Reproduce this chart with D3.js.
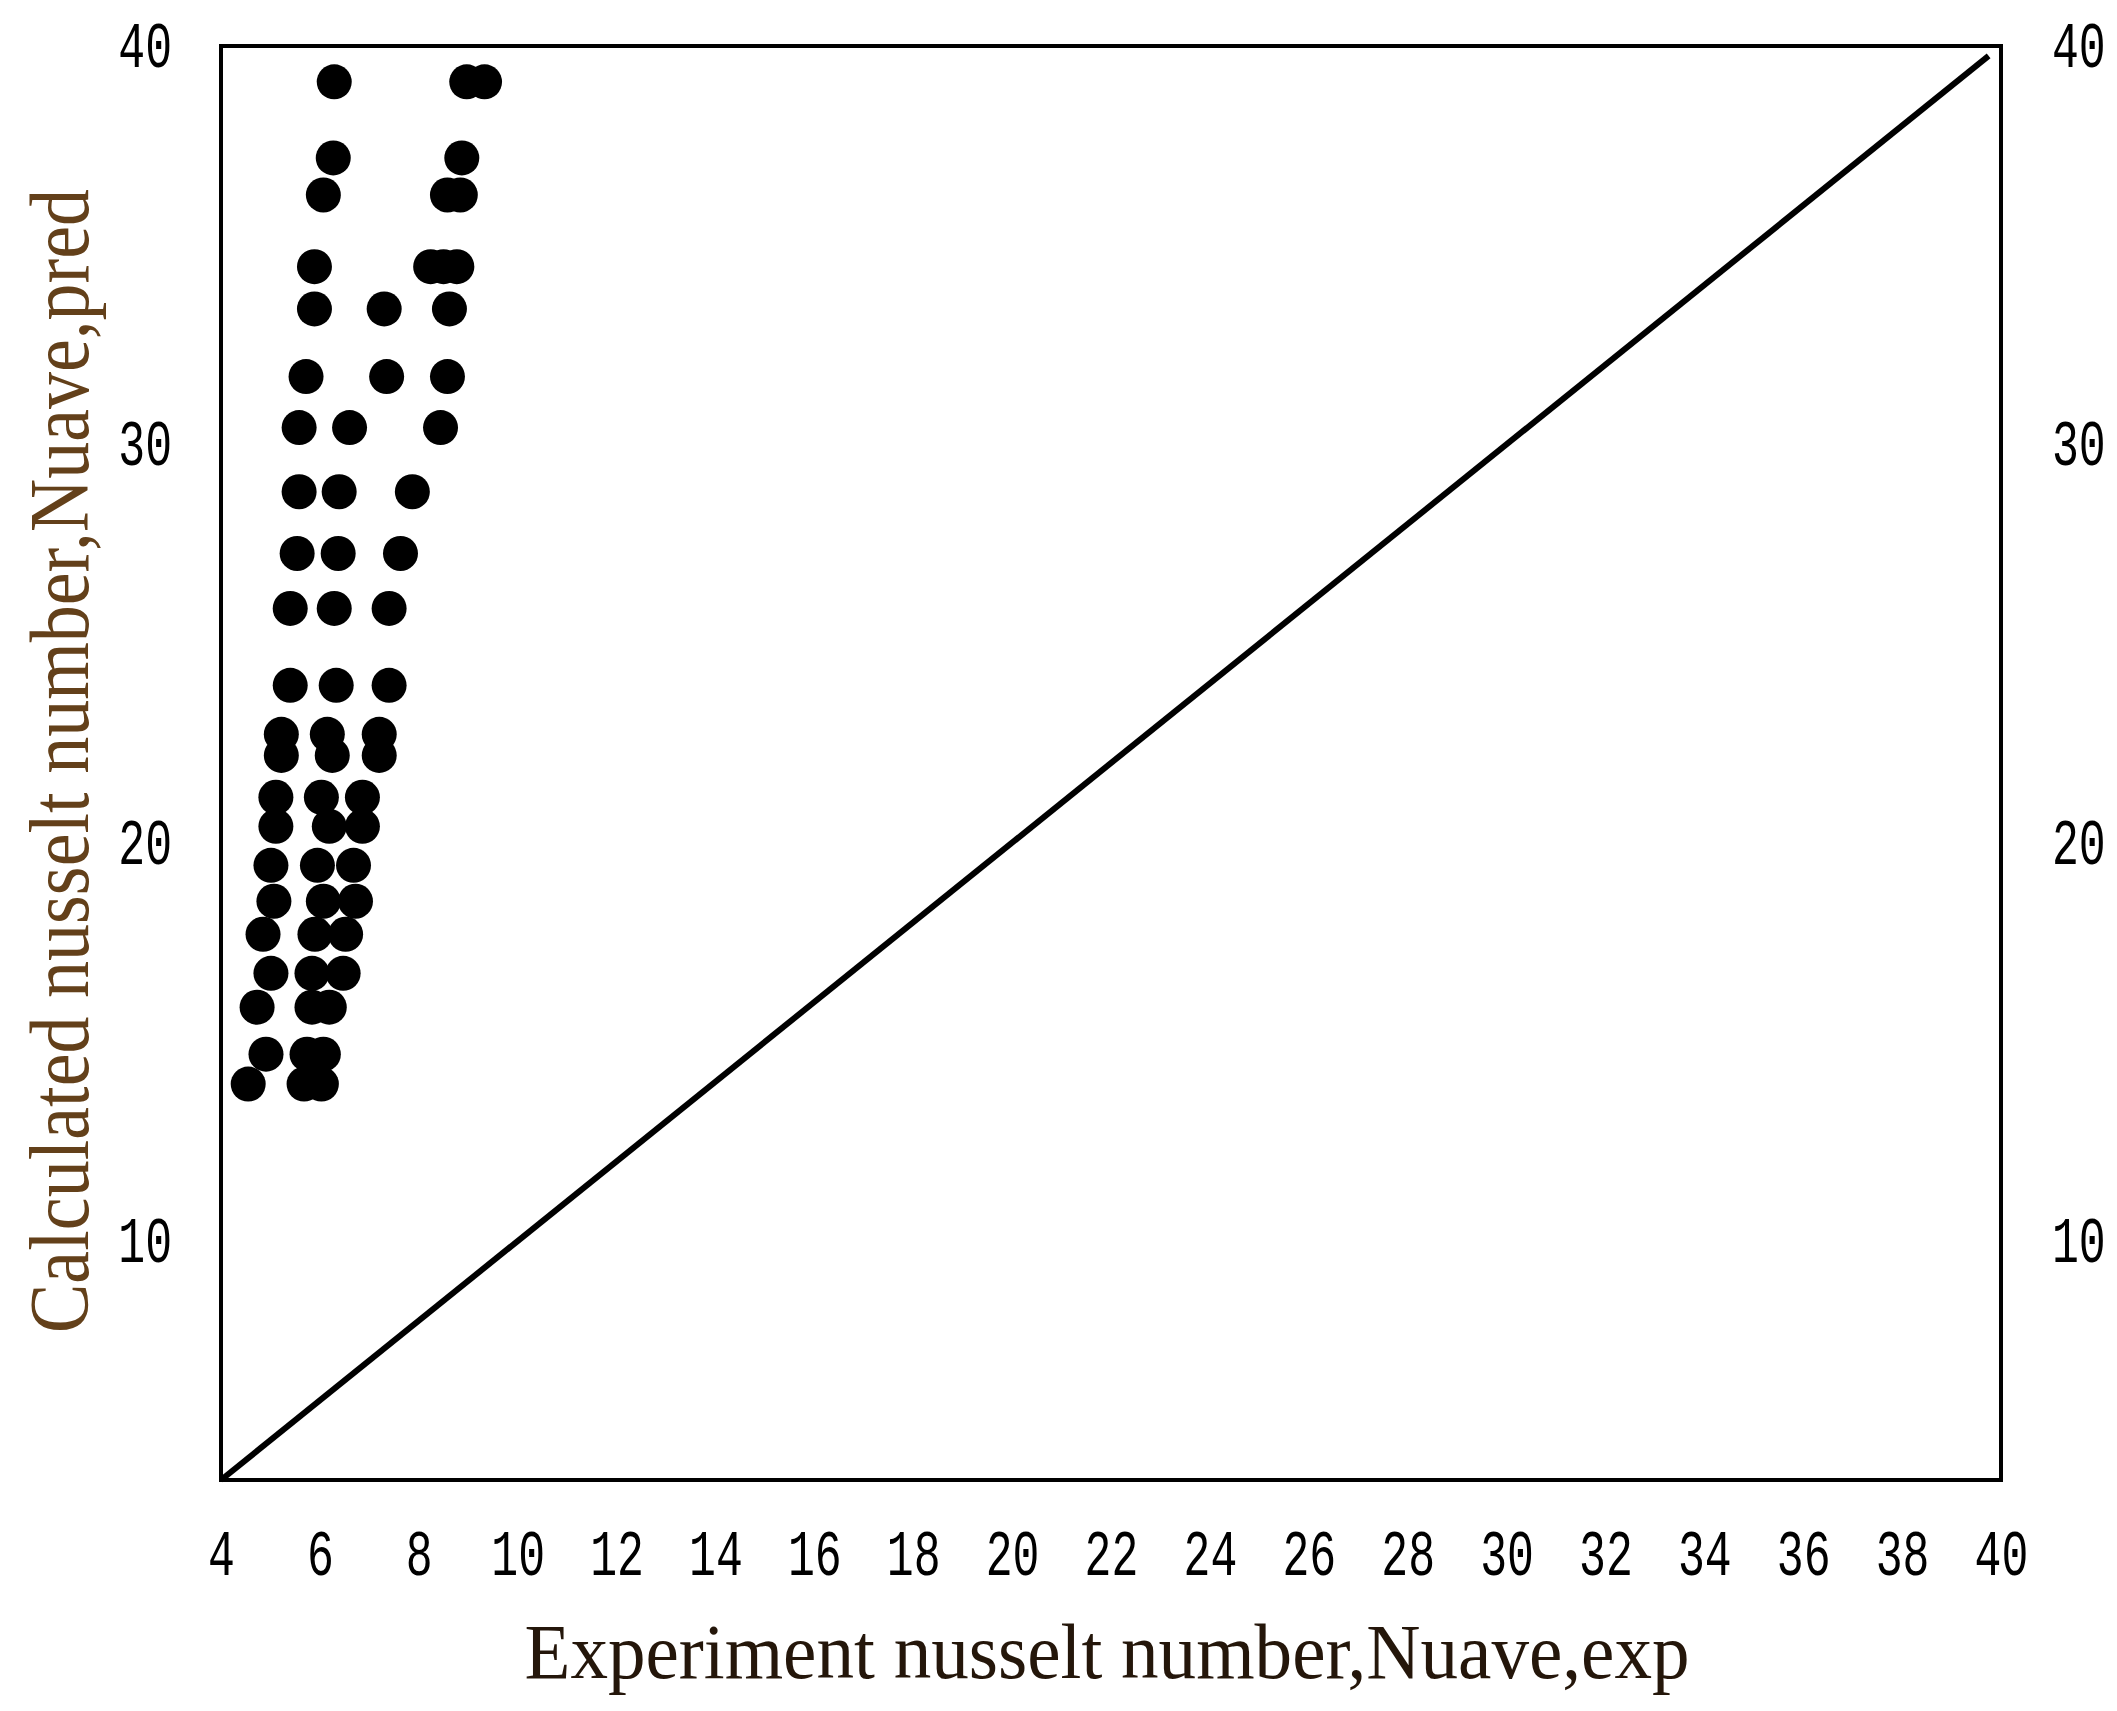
<!DOCTYPE html>
<html>
<head>
<meta charset="utf-8">
<script src="https://cdn.jsdelivr.net/npm/d3@7/dist/d3.min.js"></script>
<style>
  body { margin: 0; background: #fff; }
  .tick-lbl { font-family: "Liberation Mono", "DejaVu Sans Mono", monospace; font-size: 64px; fill: #000; }
  .axis-title { font-family: "Liberation Serif", "DejaVu Serif", serif; }
</style>
</head>
<body>
<div id="chart"></div>
<script>
const nuExp = [
  6.29, 8.97, 9.33,
  6.27, 8.87,
  6.07, 8.58, 8.84,
  5.89, 8.24, 8.50, 8.77,
  5.89, 7.30, 8.62,
  5.72, 7.35, 8.58,
  5.58, 6.60, 8.44,
  5.58, 6.39, 7.87,
  5.54, 6.37, 7.63,
  5.40, 6.29, 7.40,
  5.40, 6.33, 7.40,
  5.22, 6.15, 7.20,
  5.22, 6.25, 7.20,
  5.11, 6.03, 6.86,
  5.11, 6.19, 6.86,
  5.01, 5.95, 6.68,
  5.07, 6.07, 6.72,
  4.85, 5.90, 6.52,
  5.01, 5.84, 6.47,
  4.73, 5.84, 6.19,
  4.91, 5.74, 6.07,
  4.55, 5.68, 6.03
];
const nuPred = [
  39.10, 39.10, 39.10,
  37.19, 37.19,
  36.26, 36.26, 36.26,
  34.46, 34.46, 34.46, 34.46,
  33.40, 33.40, 33.40,
  31.70, 31.70, 31.70,
  30.42, 30.42, 30.42,
  28.81, 28.81, 28.81,
  27.26, 27.26, 27.26,
  25.88, 25.88, 25.88,
  23.95, 23.95, 23.95,
  22.72, 22.72, 22.72,
  22.19, 22.19, 22.19,
  21.14, 21.14, 21.14,
  20.41, 20.41, 20.41,
  19.43, 19.43, 19.43,
  18.53, 18.53, 18.53,
  17.70, 17.70, 17.70,
  16.72, 16.72, 16.72,
  15.87, 15.87, 15.87,
  14.69, 14.69, 14.69,
  13.94, 13.94, 13.94
];
const parityLine = [4, 39.75];
const xTicks = [4, 6, 8, 10, 12, 14, 16, 18, 20, 22, 24, 26, 28, 30, 32, 34, 36, 38, 40];
const yTicks = [10, 20, 30, 40];
const xTitle = 'Experiment nusselt number,Nuave,exp';
const yTitle = 'Calculated nusselt number,Nuave,pred';

const W = 2117, H = 1711;
const sx = 0.7; // squeeze for the narrow tick digits

const svg = d3.select('#chart').append('svg')
  .attr('width', W)
  .attr('height', H)
  .style('display', 'block');

const x = d3.scaleLinear().domain([4, 40]).range([221, 2001]);
const y = d3.scaleLinear().domain([4, 40]).range([1480, 46]);

// frame
svg.append('rect')
  .attr('x', x(4))
  .attr('y', y(40))
  .attr('width', x(40) - x(4))
  .attr('height', y(4) - y(40))
  .attr('fill', 'none')
  .attr('stroke', '#000')
  .attr('stroke-width', 4);

// axes (labels only, no tick marks)
const xAxis = d3.axisBottom(x).tickValues(xTicks).tickSize(0).tickFormat(d3.format('d'));
const yAxisL = d3.axisLeft(y).tickValues(yTicks).tickSize(0).tickFormat(d3.format('d'));
const yAxisR = d3.axisRight(y).tickValues(yTicks).tickSize(0).tickFormat(d3.format('d'));

const gx = svg.append('g')
  .attr('transform', 'translate(0,' + y(4) + ')')
  .call(xAxis);
gx.select('.domain').remove();
gx.selectAll('text')
  .attr('class', 'tick-lbl')
  .attr('y', 95).attr('dy', 0)
  .attr('transform', `scale(${sx},1)`);

const gyl = svg.append('g')
  .attr('transform', 'translate(' + x(4) + ',0)')
  .call(yAxisL);
gyl.select('.domain').remove();
gyl.selectAll('text')
  .attr('class', 'tick-lbl')
  .attr('x', -49 / sx)
  .attr('transform', `scale(${sx},1)`);

const gyr = svg.append('g')
  .attr('transform', 'translate(' + x(40) + ',0)')
  .call(yAxisR);
gyr.select('.domain').remove();
gyr.selectAll('text')
  .attr('class', 'tick-lbl')
  .attr('x', 51 / sx)
  .attr('transform', `scale(${sx},1)`);
svg.selectAll('g').attr('font-family', null).attr('font-size', null);

// 45 degree line
const line = d3.line().x(d => x(d)).y(d => y(d));
svg.append('path')
  .datum(parityLine)
  .attr('d', line)
  .attr('fill', 'none')
  .attr('stroke', '#000')
  .attr('stroke-width', 6);

// points
svg.append('g')
  .selectAll('circle')
  .data(nuExp.map((v, i) => ({ e: v, p: nuPred[i] })))
  .enter()
  .append('circle')
  .attr('cx', d => x(d.e))
  .attr('cy', d => y(d.p))
  .attr('r', 17.5)
  .attr('fill', '#000');

// titles
svg.append('text')
  .attr('class', 'axis-title')
  .attr('x', 1107)
  .attr('y', 1678)
  .attr('text-anchor', 'middle')
  .attr('font-size', 78)
  .attr('fill', '#24160a')
  .attr('textLength', 1165)
  .attr('lengthAdjust', 'spacingAndGlyphs')
  .text(xTitle);

svg.append('text')
  .attr('class', 'axis-title')
  .attr('transform', 'translate(88,761) rotate(-90)')
  .attr('text-anchor', 'middle')
  .attr('font-size', 84)
  .attr('fill', '#63401a')
  .attr('textLength', 1144)
  .attr('lengthAdjust', 'spacingAndGlyphs')
  .text(yTitle);
</script>
</body>
</html>
